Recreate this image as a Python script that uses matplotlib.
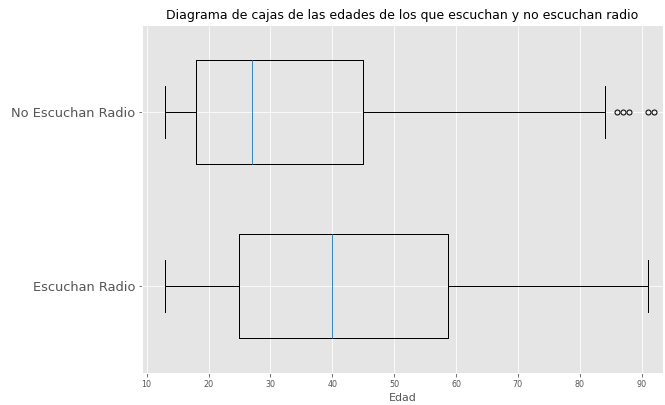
import numpy as np
import matplotlib.pyplot as plt

plt.style.use("ggplot")

etiquetas = ["Escuchan Radio", "No Escuchan Radio"]

# resumen de cinco numeros por grupo (edad)
whislo = [13, 13]
q1 = [25, 18]
mediana = [40, 27]
q3 = [58.75, 45]
whishi = [91, 84]
atipicos = [[], [86, 87, 88, 91, 92]]

stats = []
for i, lbl in enumerate(etiquetas):
    stats.append(dict(label=lbl, whislo=whislo[i], q1=q1[i], med=mediana[i],
                      q3=q3[i], whishi=whishi[i], fliers=np.array(atipicos[i])))

fig = plt.figure(figsize=(665 / 72, 405 / 72), dpi=72)
ax = fig.add_axes([0.214, 0.079, 0.7825, 0.859])
ax.bxp(stats, vert=False, widths=0.6,
       flierprops=dict(marker="o", markerfacecolor="none", markeredgecolor="black", markersize=5))
ax.set_xlim(9.3, 93.4)
ax.set_ylim(0.5, 2.5)
ax.tick_params(axis="y", labelsize=13)
ax.tick_params(axis="x", labelsize=8)
ax.set_xlabel("Edad", fontsize=11)
ax.set_title("Diagrama de cajas de las edades de los que escuchan y no escuchan radio",
             fontsize=12.5, color="black")
fig.savefig("out.png", dpi=72)
